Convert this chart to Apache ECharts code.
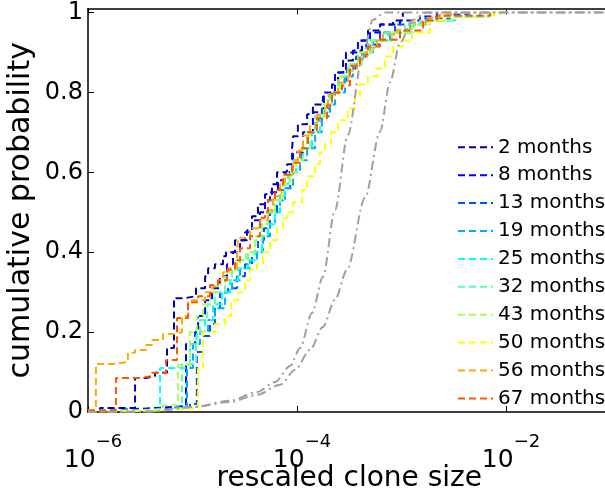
<!DOCTYPE html>
<html>
<head>
<meta charset="utf-8">
<script src="https://cdn.jsdelivr.net/npm/echarts@6.0.0/dist/echarts.min.js"></script>
<style>
html, body { margin: 0; padding: 0; background: #fff; }
#chart { width: 605px; height: 492px; }
</style>
</head>
<body>
<div id="chart"></div>
<script>
// legend names and jet colours
var names = ['2 months', '8 months', '13 months', '19 months', '25 months',
	'32 months', '43 months', '50 months', '56 months', '67 months'];
var colors = ['#0000aa', '#0000ff', '#0055ff', '#00aaff', '#00ffff',
	'#55ffaa', '#aaff55', '#ffff00', '#ffaa00', '#ff5500'];

// tick labels
var xTickExp = [-6, -4, -2];
var yTicks = [0, 0.2, 0.4, 0.6, 0.8, 1];

// empirical cdfs: [rescaled clone size, cumulative probability]
var m2 = [[1.0e-6, 0.004], [1.30e-6, 0.01], [2.82e-6, 0.085], [3.59e-6, 0.09], [4.38e-6, 0.098], [5.70e-6, 0.16],
	[6.65e-6, 0.285], [8.48e-6, 0.29], [1.08e-5, 0.31], [1.32e-5, 0.34], [1.41e-5, 0.36], [1.64e-5, 0.37],
	[1.96e-5, 0.39], [2.09e-5, 0.4], [2.55e-5, 0.43], [3.32e-5, 0.455], [3.71e-5, 0.49], [4.23e-5, 0.52],
	[4.94e-5, 0.545], [5.76e-5, 0.57], [6.44e-5, 0.6], [8.03e-5, 0.62], [8.97e-5, 0.66], [9.17e-5, 0.69],
	[1.02e-4, 0.72], [1.25e-4, 0.745], [1.42e-4, 0.77], [1.77e-4, 0.79], [2.16e-4, 0.82], [2.47e-4, 0.85],
	[2.76e-4, 0.88], [3.43e-4, 0.905], [4.19e-4, 0.93], [4.78e-4, 0.955], [6.23e-4, 0.97], [8.30e-4, 0.98],
	[1.03e-3, 1.0]];
var m8 = [[1.0e-6, 0.004], [1.30e-6, 0.006], [2.26e-6, 0.01], [4.38e-6, 0.015], [8.67e-6, 0.17], [1.06e-5, 0.2],
	[1.13e-5, 0.24], [1.32e-5, 0.28], [1.54e-5, 0.31], [1.83e-5, 0.34], [2.14e-5, 0.37], [2.44e-5, 0.4],
	[2.85e-5, 0.43], [3.18e-5, 0.45], [3.71e-5, 0.48], [4.42e-5, 0.5], [4.94e-5, 0.53], [5.52e-5, 0.55],
	[6.58e-5, 0.58], [7.68e-5, 0.6], [9.17e-5, 0.65], [1.14e-4, 0.7], [1.42e-4, 0.75], [1.81e-4, 0.8],
	[2.31e-4, 0.85], [2.94e-4, 0.9], [3.83e-4, 0.93], [5.00e-4, 0.95], [6.23e-4, 0.97], [9.68e-4, 0.98],
	[1.50e-3, 0.99], [2.19e-3, 1.0]];
var m13 = [[1.0e-6, 0.003], [1.62e-6, 0.006], [3.92e-6, 0.01], [9.47e-6, 0.02], [1.10e-5, 0.15], [1.26e-5, 0.19],
	[1.47e-5, 0.22], [1.64e-5, 0.26], [1.83e-5, 0.3], [2.19e-5, 0.31], [2.67e-5, 0.34], [3.18e-5, 0.37],
	[3.71e-5, 0.4], [4.23e-5, 0.43], [4.83e-5, 0.46], [5.52e-5, 0.5], [6.44e-5, 0.53], [7.35e-5, 0.56],
	[8.58e-5, 0.6], [9.79e-5, 0.63], [1.12e-4, 0.66], [1.27e-4, 0.7], [1.49e-4, 0.73], [1.73e-4, 0.76],
	[2.07e-4, 0.8], [2.47e-4, 0.83], [3.01e-4, 0.86], [3.67e-4, 0.89], [4.58e-4, 0.92], [6.23e-4, 0.95],
	[8.67e-4, 0.97], [1.50e-3, 0.985], [2.91e-3, 0.995], [4.52e-3, 1.0]];
var m19 = [[1.0e-6, 0.003], [2.02e-6, 0.006], [6.80e-6, 0.012], [8.86e-6, 0.11], [1.01e-5, 0.17], [1.18e-5, 0.2],
	[1.41e-5, 0.23], [1.64e-5, 0.26], [2.05e-5, 0.3], [2.39e-5, 0.33], [2.85e-5, 0.36], [3.55e-5, 0.38],
	[4.14e-5, 0.4], [4.73e-5, 0.44], [5.52e-5, 0.47], [6.16e-5, 0.5], [6.88e-5, 0.53], [7.68e-5, 0.56],
	[9.17e-5, 0.6], [1.07e-4, 0.63], [1.25e-4, 0.66], [1.49e-4, 0.7], [1.73e-4, 0.74], [2.07e-4, 0.77],
	[2.31e-4, 0.8], [2.88e-4, 0.84], [3.43e-4, 0.87], [4.19e-4, 0.9], [5.34e-4, 0.93], [7.76e-4, 0.95],
	[1.21e-3, 0.97], [1.61e-3, 0.98], [2.91e-3, 0.99], [5.64e-3, 1.0]];
var m25 = [[1.0e-6, 0.003], [3.14e-6, 0.008], [4.89e-6, 0.11], [8.48e-6, 0.115], [9.47e-6, 0.17], [1.10e-5, 0.2],
	[1.32e-5, 0.23], [1.57e-5, 0.27], [1.92e-5, 0.3], [2.28e-5, 0.33], [2.73e-5, 0.36], [3.40e-5, 0.38],
	[3.96e-5, 0.4], [4.62e-5, 0.44], [5.27e-5, 0.47], [6.16e-5, 0.5], [6.88e-5, 0.54], [7.68e-5, 0.57],
	[8.21e-5, 0.6], [9.79e-5, 0.63], [1.14e-4, 0.66], [1.39e-4, 0.7], [1.66e-4, 0.74], [1.94e-4, 0.77],
	[2.16e-4, 0.8], [2.70e-4, 0.84], [3.21e-4, 0.87], [4.01e-4, 0.9], [5.00e-4, 0.93], [7.42e-4, 0.95],
	[1.29e-3, 0.97], [1.87e-3, 0.98], [3.25e-3, 0.99], [7.03e-3, 1.0]];
var m32 = [[1.0e-6, 0.003], [2.52e-6, 0.005], [6.09e-6, 0.01], [7.94e-6, 0.12], [1.08e-5, 0.19], [1.18e-5, 0.23],
	[1.38e-5, 0.27], [1.64e-5, 0.3], [2.05e-5, 0.33], [2.39e-5, 0.36], [2.85e-5, 0.38], [3.40e-5, 0.4],
	[3.96e-5, 0.43], [4.62e-5, 0.47], [5.27e-5, 0.5], [6.16e-5, 0.53], [7.11e-5, 0.57], [8.21e-5, 0.6],
	[9.17e-5, 0.63], [1.07e-4, 0.66], [1.25e-4, 0.7], [1.49e-4, 0.74], [1.81e-4, 0.77], [2.07e-4, 0.8],
	[2.47e-4, 0.84], [3.07e-4, 0.87], [3.83e-4, 0.9], [4.78e-4, 0.93], [6.96e-4, 0.95], [1.08e-3, 0.97],
	[1.50e-3, 0.98], [2.50e-3, 0.99], [4.52e-3, 1.0]];
var m43 = [[1.0e-6, 0.003], [2.82e-6, 0.005], [5.21e-6, 0.017], [7.26e-6, 0.118], [9.47e-6, 0.2], [1.10e-5, 0.24],
	[1.26e-5, 0.27], [1.47e-5, 0.3], [1.75e-5, 0.32], [2.05e-5, 0.35], [2.55e-5, 0.38], [3.25e-5, 0.4],
	[3.96e-5, 0.44], [4.62e-5, 0.47], [5.27e-5, 0.5], [6.16e-5, 0.53], [7.35e-5, 0.57], [8.58e-5, 0.6],
	[9.79e-5, 0.63], [1.14e-4, 0.66], [1.33e-4, 0.7], [1.55e-4, 0.74], [1.85e-4, 0.77], [2.16e-4, 0.8],
	[2.58e-4, 0.84], [3.21e-4, 0.87], [4.19e-4, 0.9], [5.21e-4, 0.93], [8.12e-4, 0.95], [1.26e-3, 0.97],
	[1.87e-3, 0.98], [3.25e-3, 0.99], [7.03e-3, 1.0]];
var m50 = [[1.0e-6, 0.002], [2.52e-6, 0.005], [5.46e-6, 0.01], [1.13e-5, 0.11], [1.26e-5, 0.2], [1.64e-5, 0.22],
	[2.05e-5, 0.24], [2.34e-5, 0.28], [2.73e-5, 0.3], [3.18e-5, 0.33], [3.55e-5, 0.356], [4.14e-5, 0.37],
	[4.73e-5, 0.4], [5.52e-5, 0.43], [6.44e-5, 0.46], [7.35e-5, 0.485], [8.03e-5, 0.5], [9.17e-5, 0.525],
	[1.12e-4, 0.556], [1.25e-4, 0.59], [1.49e-4, 0.62], [1.66e-4, 0.65], [1.85e-4, 0.67], [2.12e-4, 0.7],
	[2.47e-4, 0.73], [3.07e-4, 0.76], [3.59e-4, 0.79], [4.01e-4, 0.82], [4.78e-4, 0.84], [5.83e-4, 0.86],
	[6.96e-4, 0.89], [8.30e-4, 0.915], [1.03e-3, 0.93], [1.26e-3, 0.95], [1.87e-3, 0.98], [2.50e-3, 0.99],
	[5.27e-3, 0.995], [8.77e-3, 1.0]];
var m56 = [[1.0e-6, 0.005], [1.19e-6, 0.12], [1.73e-6, 0.125], [2.41e-6, 0.148], [2.82e-6, 0.155], [3.59e-6, 0.168],
	[4.10e-6, 0.18], [5.21e-6, 0.195], [6.80e-6, 0.2], [7.94e-6, 0.24], [9.06e-6, 0.28], [1.32e-5, 0.3],
	[1.57e-5, 0.315], [1.75e-5, 0.33], [1.96e-5, 0.35], [2.19e-5, 0.36], [2.67e-5, 0.4], [2.73e-5, 0.436],
	[3.55e-5, 0.46], [4.42e-5, 0.48], [5.27e-5, 0.505], [5.89e-5, 0.54], [6.88e-5, 0.574], [7.68e-5, 0.594],
	[9.17e-5, 0.63], [1.02e-4, 0.654], [1.14e-4, 0.692], [1.33e-4, 0.717], [1.55e-4, 0.744], [1.85e-4, 0.769],
	[1.98e-4, 0.794], [2.47e-4, 0.825], [3.07e-4, 0.855], [3.75e-4, 0.885], [4.67e-4, 0.912], [5.83e-4, 0.93],
	[6.65e-4, 0.945], [9.06e-4, 0.957], [1.21e-3, 0.975], [1.75e-3, 0.987], [2.34e-3, 0.995], [3.25e-3, 1.0]];
var m67 = [[1.0e-6, 0.003], [1.30e-6, 0.005], [1.85e-6, 0.085], [3.14e-6, 0.09], [4.10e-6, 0.098], [5.58e-6, 0.13],
	[7.11e-6, 0.235], [9.06e-6, 0.275], [1.13e-5, 0.29], [1.47e-5, 0.318], [1.75e-5, 0.33], [2.14e-5, 0.356],
	[2.55e-5, 0.38], [2.85e-5, 0.41], [3.55e-5, 0.44], [4.42e-5, 0.486], [4.94e-5, 0.5], [5.27e-5, 0.53],
	[6.16e-5, 0.556], [7.35e-5, 0.594], [8.97e-5, 0.624], [1.07e-4, 0.66], [1.27e-4, 0.7], [1.55e-4, 0.735],
	[1.94e-4, 0.767], [2.16e-4, 0.8], [2.70e-4, 0.817], [3.21e-4, 0.867], [4.01e-4, 0.895], [4.78e-4, 0.915],
	[6.23e-4, 0.932], [9.68e-4, 0.955], [1.61e-3, 0.98], [2.19e-3, 0.992], [7.03e-3, 1.0]];

// grey model curves
var fitA = [[1.0e-6, 0], [3.92e-6, 0.001], [1.01e-5, 0.0125], [2.28e-5, 0.028], [4.14e-5, 0.05], [6.16e-5, 0.075],
	[8.58e-5, 0.115], [1.07e-4, 0.16], [1.39e-4, 0.248], [1.77e-4, 0.338], [2.31e-4, 0.506], [3.07e-4, 0.694],
	[4.19e-4, 0.882], [5.34e-4, 0.982], [6.96e-4, 1.0], [1e-1, 1.0]];
var fitB = [[1.0e-6, 0], [3.92e-6, 0.001], [1.01e-5, 0.0125], [2.28e-5, 0.025], [4.14e-5, 0.043], [6.88e-5, 0.068],
	[9.58e-5, 0.105], [1.33e-4, 0.155], [1.77e-4, 0.213], [2.31e-4, 0.281], [3.01e-4, 0.356], [4.48e-4, 0.536],
	[6.23e-4, 0.702], [7.76e-4, 0.825], [9.68e-4, 0.925], [1.29e-3, 0.982], [1.75e-3, 1.0], [1e-1, 1.0]];

var cdfs = [m2, m8, m13, m19, m25, m32, m43, m50, m56, m67];
var font = 'DejaVu Sans';

var series = [];
for (var i = 0; i < cdfs.length; i++) {
	series.push({
		name: names[i],
		type: 'line',
		step: 'end',
		symbol: 'none',
		data: cdfs[i],
		itemStyle: { color: colors[i] },
		lineStyle: { color: colors[i], width: 2, type: [7, 4] }
	});
}
[fitA, fitB].forEach(function(d){
	series.push({
		type: 'line',
		symbol: 'none',
		smooth: 0.3,
		smoothMonotone: 'x',
		data: d,
		lineStyle: { color: '#a0a0a0', width: 2, type: [9, 4, 2, 4] }
	});
});

function xLabel(v){
	var e = Math.round(Math.log(v) / Math.LN10);
	if (xTickExp.indexOf(e) < 0) return '';
	return '{b|10}{e|\u2212' + (-e) + '}';
}
function yLabel(v){
	for (var k = 0; k < yTicks.length; k++) {
		if (Math.abs(yTicks[k] - v) < 1e-6) return String(yTicks[k]);
	}
	return '';
}

var chart = echarts.init(document.getElementById('chart'));
var option = {
	animation: false,
	backgroundColor: '#fff',
	grid: { left: 88, right: -5.5, top: 8.5, bottom: 80, containLabel: false, outerBoundsMode: 'none' },
	legend: {
		data: names,
		orient: 'vertical',
		left: 452,
		top: 132.3,
		itemWidth: 35,
		itemHeight: 14,
		itemGap: 7.9,
		selectedMode: false,
		itemStyle: { opacity: 0 },
		textStyle: { fontSize: 20, fontFamily: font, color: '#000', lineHeight: 20 }
	},
	xAxis: [{
		type: 'log',
		logBase: 10,
		min: 1e-6,
		max: 1e-1,
		interval: 2,
		position: 'bottom',
		axisLine: { onZero: false, lineStyle: { color: '#000', width: 1.5 } },
		axisTick: { inside: true, length: 6, lineStyle: { color: '#000' } },
		splitLine: { show: false },
		axisLabel: {
			margin: 21,
			showMaxLabel: false,
			color: '#000',
			formatter: xLabel,
			rich: {
				b: { fontSize: 25, fontFamily: font, color: '#000', verticalAlign: 'bottom', lineHeight: 40, padding: [0, 0, 0, 10] },
				e: { fontSize: 18, fontFamily: font, color: '#000', verticalAlign: 'top', lineHeight: 18 }
			}
		},
		name: 'rescaled clone size',
		nameLocation: 'middle',
		nameGap: 53,
		nameMoveOverlap: false,
		nameTextStyle: { fontSize: 28, fontFamily: font, color: '#000', verticalAlign: 'top' }
	}, {
		type: 'log',
		logBase: 10,
		min: 1e-6,
		max: 1e-1,
		interval: 2,
		position: 'top',
		axisLine: { onZero: false, lineStyle: { color: '#000', width: 1.5 } },
		axisTick: { inside: true, length: 6, lineStyle: { color: '#000' } },
		axisLabel: { show: false },
		splitLine: { show: false }
	}],
	yAxis: {
		type: 'value',
		min: 0,
		max: 1.01,
		interval: 0.2,
		axisLine: { show: true, lineStyle: { color: '#000', width: 1.5 } },
		axisTick: { show: true, inside: true, length: 6, lineStyle: { color: '#000' } },
		splitLine: { show: false },
		axisLabel: { showMaxLabel: false, margin: 5, fontSize: 24, fontFamily: font, color: '#000', formatter: yLabel },
		name: 'cumulative probability',
		nameLocation: 'middle',
		nameGap: 52,
		nameMoveOverlap: false,
		nameTextStyle: { fontSize: 30, fontFamily: font, color: '#000' }
	},
	series: series
};
chart.setOption(option);
</script>
</body>
</html>
